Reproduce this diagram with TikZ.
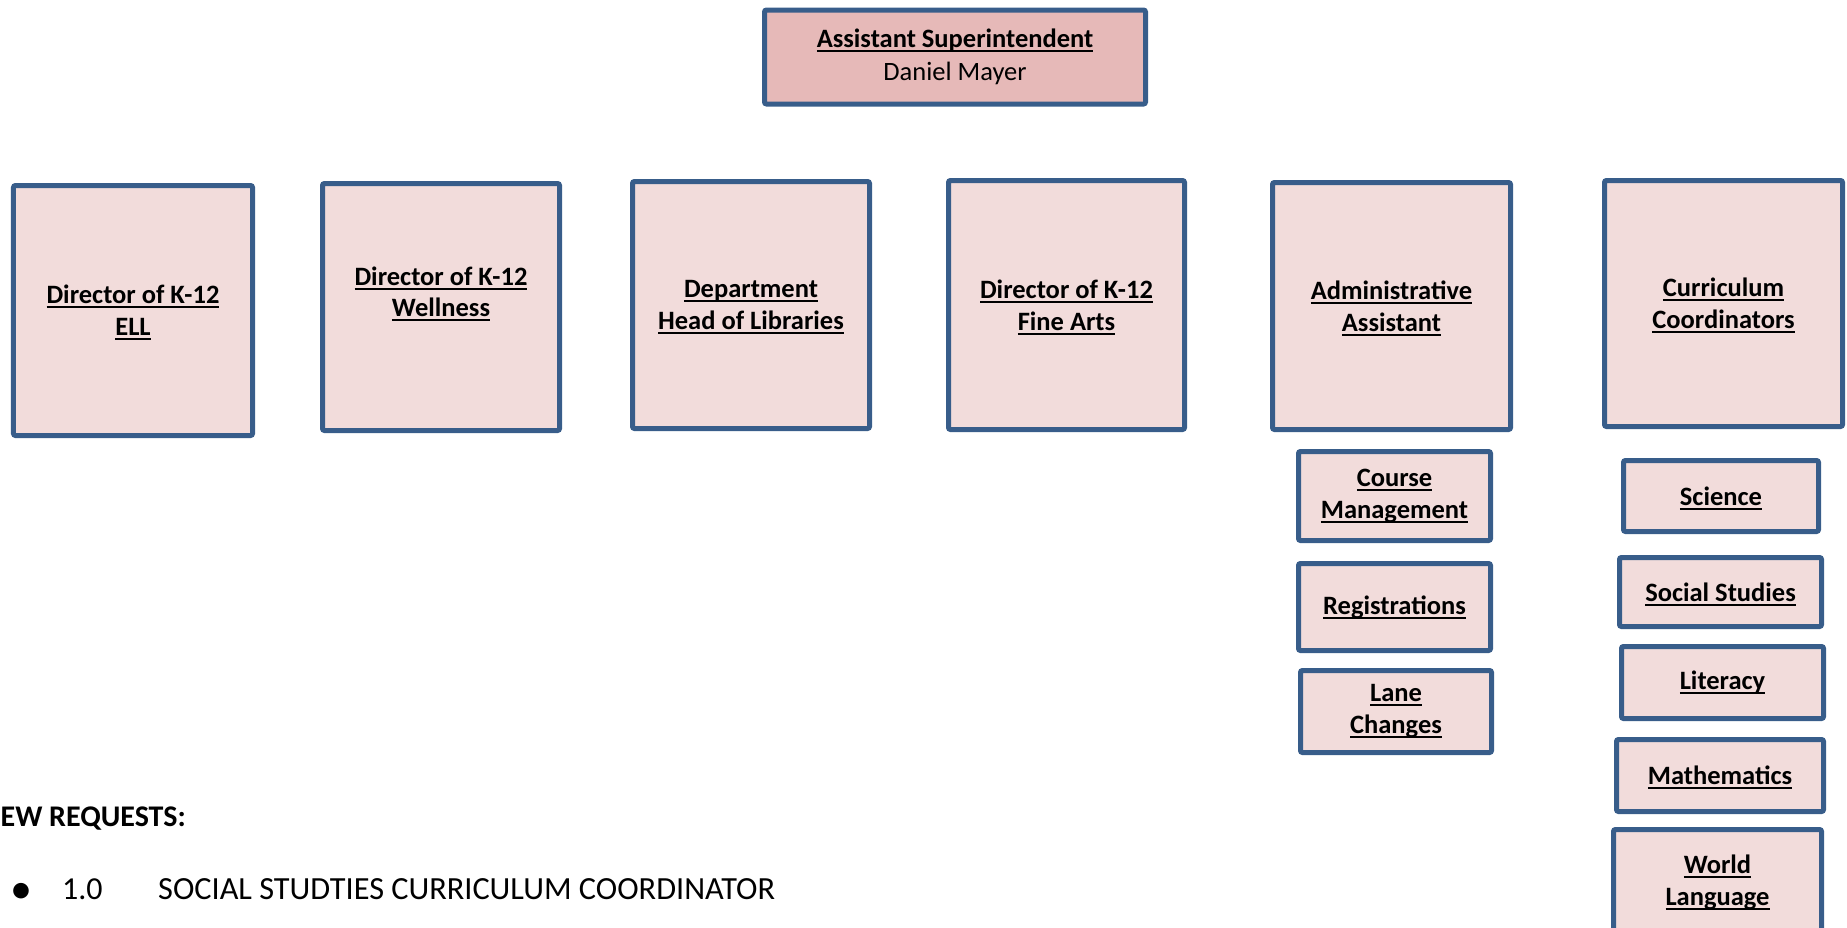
\documentclass[tikz,border=0pt]{standalone}
\usepackage{fontspec}
\setmainfont{Carlito}
\definecolor{bord}{HTML}{385D8A}
\definecolor{boxfill}{HTML}{F2DCDB}
\definecolor{topfill}{HTML}{E6B9B8}
\newcommand\ulx[1]{\setbox0=\hbox{#1}\rlap{\smash{\rule[-4.5bp]{\wd0}{2bp}}}\box0}
\begin{document}
\begin{tikzpicture}[x=1bp,y=-1bp,
  box/.style={draw=bord, line width=5bp, fill=boxfill, rounded corners=2bp,
    inner sep=0pt, align=center, font=\fontsize{26.5bp}{32bp}\selectfont\bfseries},
  plain/.style={inner sep=0pt, font=\fontsize{32bp}{38bp}\selectfont}]
\useasboundingbox (0,0) rectangle (1847,927);
\node[box, fill=topfill, minimum width=381bp, minimum height=94bp] (top) at (955,57)
  {\raisebox{-3bp}{\shortstack{\ulx{Assistant Superintendent}\\[7bp]\mdseries Daniel Mayer}}};
\node[box, minimum width=239bp, minimum height=250bp] (ell) at (133,310.5)
  {\ulx{Director of K-12}\\\ulx{ELL}};
\node[box, minimum width=237bp, minimum height=247bp] (well) at (441,307)
  {\raisebox{30bp}{\shortstack{\ulx{Director of K-12}\\[9bp]\ulx{Wellness}}}};
\node[box, minimum width=237bp, minimum height=247bp] (lib) at (751,305)
  {\ulx{Department}\\\ulx{Head of Libraries}};
\node[box, minimum width=236bp, minimum height=249bp] (fine) at (1066.5,305)
  {\ulx{Director of K-12}\\\ulx{Fine Arts}};
\node[box, minimum width=238bp, minimum height=247bp] (admin) at (1391.5,306)
  {\ulx{Administrative}\\\ulx{Assistant}};
\node[box, minimum width=238bp, minimum height=246bp] (curr) at (1723.5,303.5)
  {\ulx{Curriculum}\\\ulx{Coordinators}};
\node[box, minimum width=192bp, minimum height=89bp] (course) at (1394.5,496)
  {\ulx{Course}\\\ulx{Management}};
\node[box, minimum width=192bp, minimum height=87bp] (reg) at (1394.5,607)
  {\ulx{Registrations}};
\node[box, minimum width=191bp, minimum height=82bp] (lane) at (1396,711.5)
  {\ulx{Lane}\\\ulx{Changes}};
\node[box, minimum width=195bp, minimum height=71bp] (sci) at (1721,496)
  {\ulx{Science}};
\node[box, minimum width=202bp, minimum height=69bp] (soc) at (1720.5,592)
  {\ulx{Social Studies}};
\node[box, minimum width=202bp, minimum height=72bp] (lit) at (1722.5,682.5)
  {\ulx{Literacy}};
\node[box, minimum width=207bp, minimum height=72bp] (math) at (1720,775.5)
  {\ulx{Mathematics}};
\node[box, minimum width=208bp, minimum height=105bp] (world) at (1717.5,882)
  {\ulx{World}\\\ulx{Language}};
\node[plain, font=\fontsize{30bp}{36bp}\selectfont\bfseries, anchor=base east] (req) at (186,826) {NEW REQUESTS:};
\node[plain, font=\fontsize{44bp}{44bp}\selectfont, anchor=base] (bul) at (21,903) {•};
\node[plain, anchor=base west] (num) at (62,899) {1.0};
\node[plain, font=\fontsize{32.3bp}{38bp}\selectfont, anchor=base west] (item) at (158,899) {SOCIAL STUDTIES CURRICULUM COORDINATOR};
\end{tikzpicture}
\end{document}
